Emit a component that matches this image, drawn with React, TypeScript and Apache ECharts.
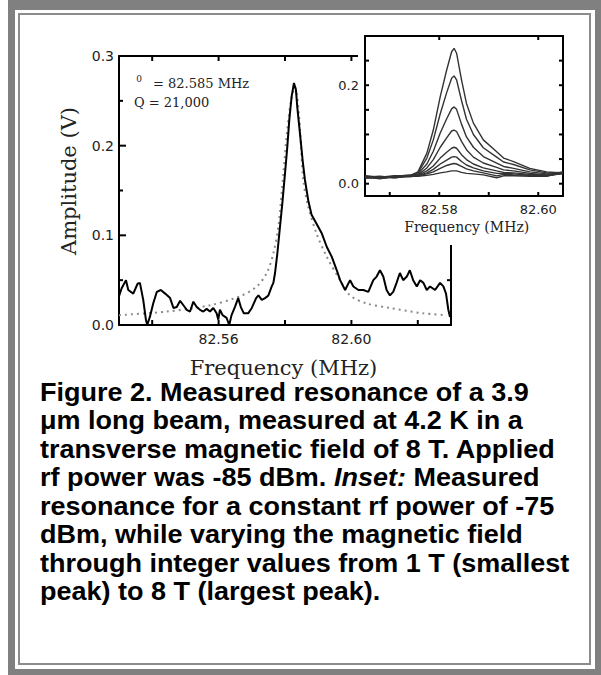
import React, { useEffect, useRef } from "react";
import * as echarts from "echarts";

// ---------- Main plot data ----------
const mainFreq = [
  82.53, 82.5308, 82.5321, 82.5328, 82.5343, 82.5356, 82.5363, 82.5373, 82.5381, 82.5385,
  82.5393, 82.5403, 82.5414, 82.5426, 82.5439, 82.5454, 82.5464, 82.5474, 82.5484, 82.5494,
  82.5504, 82.5514, 82.5524, 82.5534, 82.5544, 82.5554, 82.5564, 82.5574, 82.5584, 82.5594,
  82.5599, 82.5604, 82.5612, 82.5624, 82.5632, 82.5639, 82.5649, 82.5659, 82.5667, 82.5676,
  82.5689, 82.57, 82.5713, 82.572, 82.573, 82.574, 82.575, 82.576, 82.5765, 82.577,
  82.5777, 82.5785, 82.5792, 82.58, 82.5807, 82.5813, 82.582, 82.5827, 82.5833, 82.5837,
  82.5845, 82.5853, 82.586, 82.587, 82.588, 82.5895, 82.5911, 82.5926, 82.5941, 82.5956,
  82.5966, 82.5981, 82.5996, 82.6006, 82.6021, 82.6036, 82.6051, 82.6066, 82.6076, 82.6086,
  82.6096, 82.6106, 82.6116, 82.6126, 82.6136, 82.6146, 82.6156, 82.6167, 82.6176, 82.6186,
  82.6197, 82.6207, 82.6217, 82.6227, 82.6237, 82.6252, 82.6267, 82.6277, 82.6285, 82.6292,
  82.6297,
];
const mainAmp = [
  0.032, 0.041, 0.05, 0.039, 0.035, 0.046, 0.047, 0.028, 0.006, 0.0,
  0.009, 0.024, 0.037, 0.039, 0.035, 0.03, 0.019, 0.02, 0.027, 0.022,
  0.017, 0.015, 0.026, 0.02, 0.017, 0.015, 0.018, 0.015, 0.019, 0.013,
  0.006, 0.017, 0.011, 0.008, 0.0, 0.011, 0.02, 0.03, 0.02, 0.013,
  0.013, 0.019, 0.03, 0.033, 0.028, 0.03, 0.033, 0.043, 0.047, 0.058,
  0.08, 0.11, 0.136, 0.169, 0.199, 0.229, 0.255, 0.27, 0.262, 0.243,
  0.214, 0.184, 0.162, 0.139, 0.123, 0.113, 0.102, 0.087, 0.076, 0.061,
  0.05, 0.039, 0.05, 0.043, 0.039, 0.039, 0.037, 0.05, 0.054, 0.061,
  0.054, 0.039, 0.033, 0.037, 0.047, 0.058, 0.05, 0.054, 0.061, 0.05,
  0.043, 0.05, 0.047, 0.039, 0.043, 0.039, 0.047, 0.043, 0.035, 0.017,
  0.009,
];
const fitFreq = [
  82.53, 82.5444, 82.5574, 82.5664, 82.5715, 82.5745, 82.5765, 82.578, 82.5795, 82.5806,
  82.5818, 82.583, 82.5842, 82.5855, 82.587, 82.5895, 82.5926, 82.5966, 82.5996, 82.6046,
  82.6116, 82.6217, 82.6287,
];
const fitAmp = [
  0.011, 0.015, 0.022, 0.032, 0.043, 0.058, 0.08, 0.11, 0.169, 0.215,
  0.25, 0.265, 0.235, 0.162, 0.132, 0.102, 0.076, 0.05, 0.033, 0.024,
  0.019, 0.013, 0.011,
];
const mainXTicks = [82.54, 82.56, 82.58, 82.6, 82.62];
const mainXLabels = [82.56, 82.6];
const mainYMajorTicks = [0.1, 0.2];
const mainYMinorTicks = [0.05, 0.15, 0.25];

// ---------- Inset data (1 T ... 8 T) ----------
const insetFreq = [
  82.565, 82.568, 82.571, 82.574, 82.5757, 82.5775, 82.5788, 82.5802, 82.5815, 82.5825,
  82.583, 82.5835, 82.5845, 82.5855, 82.5869, 82.5889, 82.5916, 82.593, 82.595, 82.5983,
  82.6017, 82.605,
];
const field8T = [0.013, 0.011, 0.014, 0.016, 0.024, 0.062, 0.109, 0.177, 0.231, 0.268, 0.275, 0.265, 0.211, 0.163, 0.123, 0.089, 0.065, 0.052, 0.045, 0.031, 0.024, 0.022];
const field7T = [0.015, 0.012, 0.015, 0.017, 0.022, 0.052, 0.089, 0.142, 0.185, 0.214, 0.219, 0.211, 0.169, 0.131, 0.1, 0.073, 0.054, 0.044, 0.039, 0.028, 0.022, 0.023];
const field6T = [0.012, 0.014, 0.013, 0.016, 0.02, 0.04, 0.066, 0.103, 0.132, 0.152, 0.156, 0.151, 0.121, 0.095, 0.074, 0.055, 0.042, 0.035, 0.031, 0.024, 0.02, 0.021];
const field5T = [0.016, 0.013, 0.012, 0.015, 0.018, 0.032, 0.049, 0.074, 0.093, 0.107, 0.109, 0.106, 0.086, 0.069, 0.054, 0.042, 0.033, 0.028, 0.026, 0.021, 0.018, 0.024];
const field4T = [0.014, 0.01, 0.015, 0.017, 0.017, 0.026, 0.036, 0.052, 0.064, 0.072, 0.074, 0.072, 0.059, 0.049, 0.04, 0.032, 0.026, 0.023, 0.022, 0.019, 0.017, 0.02];
const field3T = [0.011, 0.013, 0.016, 0.014, 0.016, 0.022, 0.029, 0.04, 0.048, 0.054, 0.055, 0.054, 0.045, 0.038, 0.032, 0.026, 0.021, 0.021, 0.02, 0.017, 0.016, 0.022];
const field2T = [0.013, 0.015, 0.012, 0.016, 0.016, 0.02, 0.024, 0.031, 0.037, 0.04, 0.041, 0.04, 0.035, 0.03, 0.026, 0.022, 0.016, 0.019, 0.018, 0.017, 0.016, 0.021];
const field1T = [0.015, 0.011, 0.014, 0.015, 0.015, 0.017, 0.019, 0.022, 0.024, 0.026, 0.026, 0.026, 0.023, 0.021, 0.02, 0.018, 0.012, 0.016, 0.016, 0.015, 0.015, 0.023];
const insetFields = [field1T, field2T, field3T, field4T, field5T, field6T, field7T, field8T];
const insetXTicks = [82.57, 82.58, 82.59, 82.6];
const insetXTopTicks = [82.58, 82.6];
const insetXLabels = [82.58, 82.6];
const insetYTicks = [0, 0.05, 0.1, 0.15, 0.2, 0.25];
const insetYLabels = [0, 0.2];

const captionLines = [
  "Figure 2. Measured resonance of a 3.9",
  "\u03bcm long beam, measured at 4.2 K in a",
  "transverse magnetic field of 8 T. Applied",
  "rf power was -85 dBm. {i|Inset:} Measured",
  "resonance for a constant rf power of -75",
  "dBm, while varying the magnetic field",
  "through integer values from 1 T (smallest",
  "peak) to 8 T (largest peak).",
];

const zip = (xs: number[], ys: number[]) => xs.map((x, i) => [x, ys[i]]);

const SANS = "DejaVu Sans";
const SERIF = "DejaVu Serif";
const mkLine = () => ({ show: true, onZero: false, lineStyle: { color: "#000", width: 2 } });

// Tick marks drawn through the axes' own scales (api.coord)
function tickSeries(
  xi: number, yi: number, vals: number[], dir: "x" | "y",
  len: number, sides: Array<"lo" | "hi">, other: number, z: number
): any {
  return {
    type: "custom",
    xAxisIndex: xi,
    yAxisIndex: yi,
    z,
    silent: true,
    clip: false,
    data: vals.map((v) => [v, v]),
    renderItem: (params: any, api: any) => {
      const cs = params.coordSys;
      const v = api.value(0);
      const children: any[] = [];
      if (dir === "x") {
        const px = api.coord([v, other])[0];
        sides.forEach((s) => {
          const base = s === "lo" ? cs.y + cs.height : cs.y;
          const tip = s === "lo" ? base - len : base + len;
          children.push({ type: "line", shape: { x1: px, y1: base, x2: px, y2: tip }, style: { stroke: "#000", lineWidth: 2 } });
        });
      } else {
        const py = api.coord([other, v])[1];
        sides.forEach((s) => {
          const base = s === "lo" ? cs.x : cs.x + cs.width;
          const tip = s === "lo" ? base + len : base - len;
          children.push({ type: "line", shape: { x1: base, y1: py, x2: tip, y2: py }, style: { stroke: "#000", lineWidth: 2 } });
        });
      }
      return { type: "group", children };
    },
  };
}

function buildOption(): any {
  const txt = (x: number, y: number, text: string, size: number, family: string, align = "center", extra: any = {}) => ({
    type: "text",
    x,
    y,
    z: 20,
    ...extra,
    style: {
      text,
      fontSize: size,
      fontFamily: family,
      fill: "#222",
      align,
      textAlign: align,
      verticalAlign: "middle",
      textVerticalAlign: "middle",
    },
  });

  const caption = {
    type: "group",
    x: 40,
    y: 0,
    scaleX: 1.08,
    z: 20,
    children: captionLines.map((t, i) => ({
      type: "text",
      x: 0,
      y: 392 + i * 28.5,
      z: 20,
      style: {
        text: t,
        fontSize: 25,
        fontWeight: "bold",
        fontFamily: "Liberation Sans, Arial, sans-serif",
        fill: "#000",
        align: "left",
        textAlign: "left",
        verticalAlign: "middle",
        textVerticalAlign: "middle",
        rich: {
          i: {
            fontSize: 25,
            fontWeight: "bold",
            fontStyle: "italic",
            fontFamily: "Liberation Sans, Arial, sans-serif",
            fill: "#000",
            color: "#000",
          },
        },
      },
    })),
  };

  const noTick = { show: false };

  return {
    animation: false,
    grid: [
      { left: 119, top: 56, width: 332, height: 269 },
      { left: 365, top: 36, width: 198, height: 160 },
    ],
    xAxis: [
      {
        type: "value", gridIndex: 0, position: "bottom", min: 82.53, max: 82.63,
        axisLine: mkLine(), splitLine: { show: false }, axisTick: noTick,
        axisLabel: { show: true, customValues: mainXLabels, formatter: (v: number) => v.toFixed(2), margin: 7, fontFamily: SANS, fontSize: 14, color: "#222" },
      },
      {
        type: "value", gridIndex: 0, position: "top", min: 82.53, max: 82.63,
        axisLine: mkLine(), splitLine: { show: false }, axisTick: noTick, axisLabel: { show: false },
      },
      {
        type: "value", gridIndex: 1, position: "bottom", min: 82.565, max: 82.605, z: 10,
        axisLine: mkLine(), splitLine: { show: false }, axisTick: noTick,
        axisLabel: { show: true, customValues: insetXLabels, formatter: (v: number) => v.toFixed(2), margin: 7, fontFamily: SANS, fontSize: 13, color: "#222" },
      },
      {
        type: "value", gridIndex: 1, position: "top", min: 82.565, max: 82.605, z: 10,
        axisLine: mkLine(), splitLine: { show: false }, axisTick: noTick, axisLabel: { show: false },
      },
    ],
    yAxis: [
      {
        type: "value", gridIndex: 0, position: "left", min: 0, max: 0.3, interval: 0.1,
        axisLine: mkLine(), splitLine: { show: false }, axisTick: noTick,
        axisLabel: { show: true, formatter: (v: number) => v.toFixed(1), margin: 5, fontFamily: SANS, fontSize: 14, color: "#222" },
      },
      {
        type: "value", gridIndex: 0, position: "right", min: 0, max: 0.3, interval: 0.1,
        axisLine: mkLine(), splitLine: { show: false }, axisTick: noTick, axisLabel: { show: false },
      },
      {
        type: "value", gridIndex: 1, position: "left", min: -0.025, max: 0.3, z: 10,
        axisLine: mkLine(), splitLine: { show: false }, axisTick: noTick,
        axisLabel: { show: true, customValues: insetYLabels, formatter: (v: number) => v.toFixed(1), margin: 6, fontFamily: SANS, fontSize: 13, color: "#222" },
      },
      {
        type: "value", gridIndex: 1, position: "right", min: -0.025, max: 0.3, z: 10,
        axisLine: mkLine(), splitLine: { show: false }, axisTick: noTick, axisLabel: { show: false },
      },
    ],
    series: [
      {
        type: "line", xAxisIndex: 0, yAxisIndex: 0, data: zip(fitFreq, fitAmp), showSymbol: false, smooth: 0.3, z: 2,
        lineStyle: { color: "#8a8a8a", width: 2, type: [2, 4] },
      },
      {
        type: "line", xAxisIndex: 0, yAxisIndex: 0, data: zip(mainFreq, mainAmp), showSymbol: false, z: 3,
        lineStyle: { color: "#000", width: 2 },
      },
      tickSeries(0, 0, mainXTicks, "x", 5, ["lo", "hi"], 0.1, 4),
      tickSeries(0, 0, mainYMajorTicks, "y", 7, ["lo", "hi"], 82.55, 4),
      tickSeries(0, 0, mainYMinorTicks, "y", 4, ["lo", "hi"], 82.55, 4),
      ...insetFields.map((vals) => ({
        type: "line", xAxisIndex: 2, yAxisIndex: 2, data: zip(insetFreq, vals), showSymbol: false, z: 10,
        lineStyle: { color: "#333", width: 1.4 },
      })),
      tickSeries(2, 2, insetXTicks, "x", 4, ["lo"], 0.1, 11),
      tickSeries(2, 2, insetXTopTicks, "x", 4, ["hi"], 0.1, 11),
      tickSeries(2, 2, insetYTicks, "y", 4, ["lo", "hi"], 82.58, 11),
    ],
    graphic: [
      { type: "rect", z: 5, shape: { x: 358, y: 30, width: 215, height: 215 }, style: { fill: "#fff" } },
      txt(139, 79, "0", 9, SERIF),
      txt(153, 83, "= 82.585 MHz", 13, SERIF, "left"),
      txt(134, 102, "Q = 21,000", 13, SERIF, "left"),
      txt(283.5, 368, "Frequency (MHz)", 21, SERIF),
      txt(69, 181, "Amplitude (V)", 21, SERIF, "center", { rotation: Math.PI / 2 }),
      txt(466.7, 227, "Frequency (MHz)", 14, SERIF),
      caption,
    ],
  };
}

export default function App() {
  const ref = useRef<HTMLDivElement>(null);
  useEffect(() => {
    if (!ref.current) return;
    const chart = echarts.init(ref.current, null, { renderer: "svg" });
    chart.setOption(buildOption());
    return () => chart.dispose();
  }, []);
  return (
    <div style={{ position: "absolute", left: 0, top: 0, width: 601, height: 675, background: "#fff" }}>
      <div style={{ position: "absolute", left: 8, top: 0, width: 593, height: 675, background: "#808080" }} />
      <div style={{ position: "absolute", left: 15, top: 10, width: 580, height: 659, background: "#fff" }} />
      <div style={{ position: "absolute", left: 18, top: 13, width: 573, height: 652, border: "2px solid #8c8c8c", boxSizing: "border-box" }} />
      <div ref={ref} style={{ position: "absolute", left: 0, top: 0, width: 601, height: 675 }} />
    </div>
  );
}
